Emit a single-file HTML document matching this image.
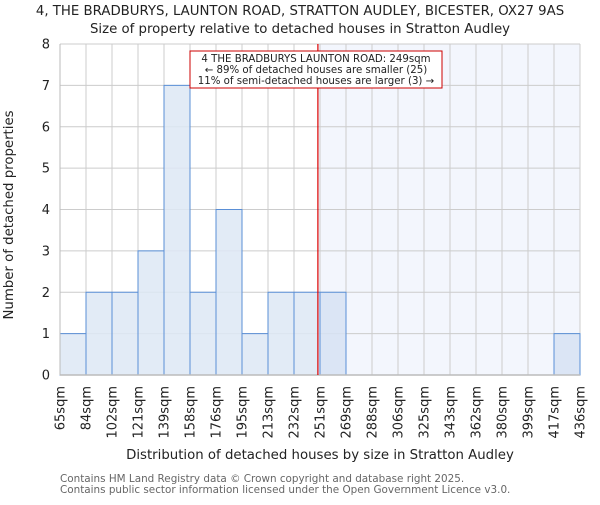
<!DOCTYPE html>
<html><head><meta charset="utf-8"><style>
body{margin:0;background:#fff}
svg text{font-family:"DejaVu Sans","Liberation Sans",sans-serif}
</style></head><body>
<svg id="c" width="600" height="500" xmlns="http://www.w3.org/2000/svg">
<text x="300" y="15" text-anchor="middle" font-size="13.3" fill="#222">4, THE BRADBURYS, LAUNTON ROAD, STRATTON AUDLEY, BICESTER, OX27 9AS</text>
<text x="300" y="33" text-anchor="middle" font-size="13.3" fill="#222">Size of property relative to detached houses in Stratton Audley</text>
<g id="plot"></g>
<text x="320" y="459" text-anchor="middle" font-size="13.3" fill="#222">Distribution of detached houses by size in Stratton Audley</text>
<text transform="translate(13,215) rotate(-90)" text-anchor="middle" font-size="13.3" fill="#222">Number of detached properties</text>
<text x="60" y="482" font-size="10.4" fill="#666">Contains HM Land Registry data © Crown copyright and database right 2025.</text>
<text x="60" y="493" font-size="10.4" fill="#666">Contains public sector information licensed under the Open Government Licence v3.0.</text>
</svg>
<script>
const binLabels=["65sqm","84sqm","102sqm","121sqm","139sqm","158sqm","176sqm","195sqm","213sqm","232sqm","251sqm","269sqm","288sqm","306sqm","325sqm","343sqm","362sqm","380sqm","399sqm","417sqm","436sqm"];
const counts=[1,2,2,3,7,2,4,1,2,2,2,0,0,0,0,0,0,0,0,1];
const yTicks=[0,1,2,3,4,5,6,7,8];
const subjectSize=249;
const binStart=65, binStep=18.55;
const L=60,R=580,T=44,B=375,yMax=8;
const n=counts.length;
const bw=(R-L)/n;
const xs=v=>L+(v-binStart)/binStep*bw;
const xi=i=>L+i*bw;
const y=v=>B-(v/yMax)*(B-T);
const NS="http://www.w3.org/2000/svg";
const g=document.getElementById('plot');
function mk(t,a){const e=document.createElementNS(NS,t);for(const k in a)e.setAttribute(k,a[k]);g.appendChild(e);return e;}
const sx=xs(subjectSize);
let r=mk('rect',{x:sx,y:T,width:R-sx,height:B-T,fill:'#f3f6fd'});


for(let i=0;i<=n;i++){const l=mk('line',{x1:xi(i),x2:xi(i),y1:T,y2:B,stroke:'#ccc','stroke-width':1});
 
 }
yTicks.forEach(t=>{const l=mk('line',{x1:L,x2:R,y1:y(t),y2:y(t),stroke:'#ccc','stroke-width':1});
 
 
 const tx=mk('text',{x:L-10,y:y(t)+4.5,'text-anchor':'end','font-size':13,fill:'#222'});tx.textContent=t;
 
 });
counts.forEach((c,i)=>{if(c<=0)return;
 const b=mk('rect',{x:xi(i),y:y(c),width:bw,height:B-y(c),fill:i>=10?'#d6e2f3':'#dde7f4','fill-opacity':0.85,stroke:'#5a8fd6','stroke-width':1});
 
 
});
binLabels.forEach((s,i)=>{const tx=mk('text',{transform:`translate(${xi(i)+4.5},386) rotate(-90)`,'text-anchor':'end','font-size':13,fill:'#222'});tx.textContent=s;
 
 });
let ax=mk('line',{x1:L,x2:R,y1:B,y2:B,stroke:'#bbb','stroke-width':1.5});


let ay=mk('line',{x1:L,x2:L,y1:T,y2:B,stroke:'#bbb','stroke-width':1});


let rl=mk('line',{x1:sx,x2:sx,y1:T,y2:B,stroke:'#d00','stroke-width':1.2});


let box=mk('rect',{x:190,y:51,width:252,height:37,fill:'#fff',stroke:'#c00','stroke-width':1});


["4 THE BRADBURYS LAUNTON ROAD: 249sqm","← 89% of detached houses are smaller (25)","11% of semi-detached houses are larger (3) →"].forEach((s,i)=>{
 const tx=mk('text',{x:316,y:62+i*11,'text-anchor':'middle','font-size':10.2,fill:'#222'});tx.textContent=s;
 
 });
</script>
</body></html>
